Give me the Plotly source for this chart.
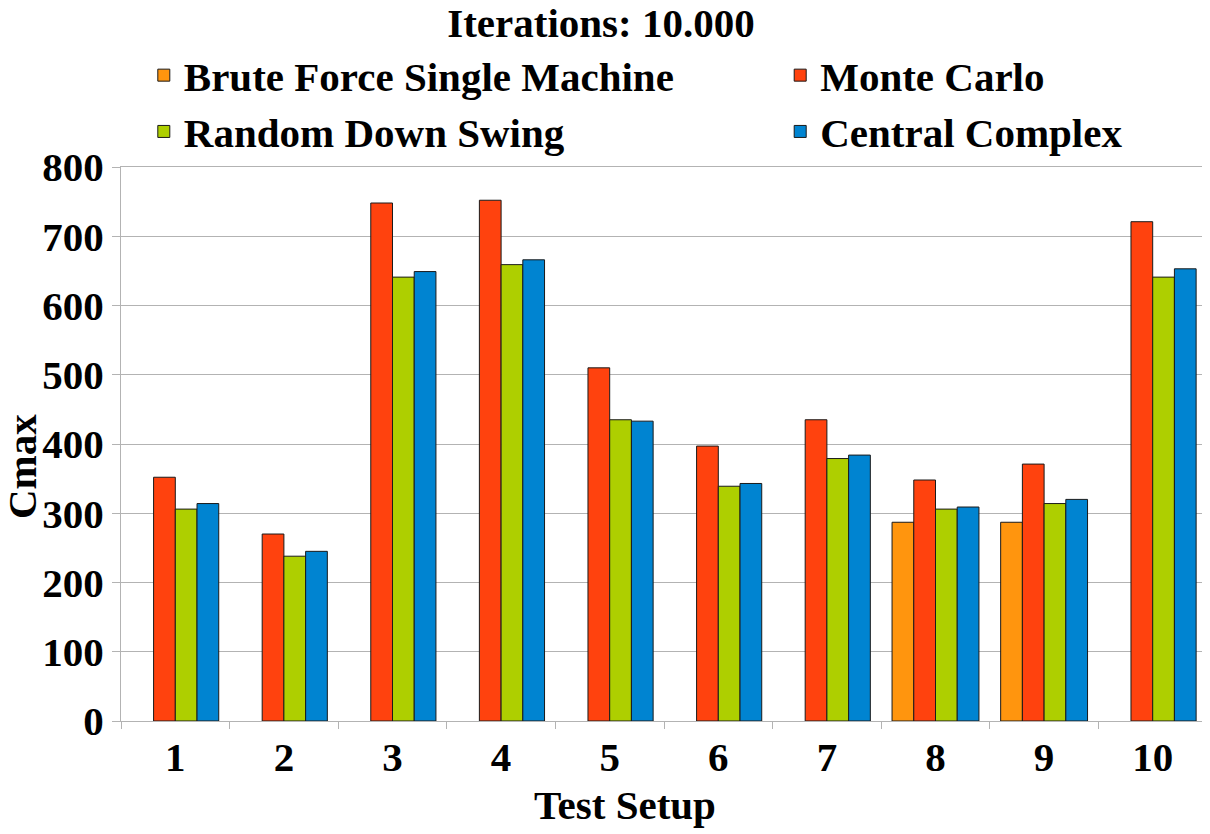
import plotly.graph_objects as go

# test setups on the x axis
setups = ["1", "2", "3", "4", "5", "6", "7", "8", "9", "10"]

# Cmax per setup (None = no result for that method)
brute_force = [None, None, None, None, None, None, None, 287, 287, None]
monte_carlo = [352, 270, 748, 752, 510, 397, 435, 348, 371, 721]
random_down_swing = [306, 238, 641, 659, 435, 339, 379, 306, 314, 641]
central_complex = [314, 245, 649, 666, 433, 343, 384, 309, 320, 653]

y_ticks = [0, 100, 200, 300, 400, 500, 600, 700, 800]

FONT = "Liberation Serif"
GRID = "#b3b3b3"

# page body has an 8px margin, so the figure is 8px smaller than the window
W, H = 1202, 826
L, T, R, B = 113, 159, 3, 113
PW, PH = W - L - R, H - T - B

fig = go.Figure()

series = [
    ("Brute Force Single Machine", brute_force, "#ff950e", "legend"),
    ("Monte Carlo", monte_carlo, "#ff420e", "legend2"),
    ("Random Down Swing", random_down_swing, "#aecf00", "legend"),
    ("Central Complex", central_complex, "#0084d1", "legend2"),
]
for name, vals, color, leg in series:
    fig.add_trace(go.Bar(
        x=setups, y=vals, name=name, legend=leg,
        marker=dict(color=color, line=dict(color="#1a1a1a", width=1)),
    ))

legend_style = dict(
    font=dict(family=FONT, size=41, color="black", weight="bold"),
    orientation="v", xanchor="left", yanchor="top",
    bgcolor="rgba(0,0,0,0)", traceorder="normal",
)
leg_y = 1 + (T - 34) / PH

fig.update_layout(
    width=W, height=H,
    margin=dict(l=L, r=R, t=T, b=B),
    paper_bgcolor="white", plot_bgcolor="white",
    barmode="group", bargap=0.2, bargroupgap=0,
    font=dict(family=FONT, size=41, color="black", weight="bold"),
    title=dict(text="Iterations: 10.000", x=(601 - 8) / W, xref="container", xanchor="center",
               y=1, yref="container", yanchor="top", pad=dict(t=0),
               font=dict(family=FONT, size=41, weight="bold")),
    legend=dict(x=0.021, y=leg_y, **legend_style),
    legend2=dict(x=0.607, y=leg_y, **legend_style),
    annotations=[
        dict(text="Test Setup", xref="paper", yref="paper", x=(625 - 121) / PW, y=-(805 - 721) / PH,
             xanchor="center", yanchor="middle", showarrow=False,
             font=dict(family=FONT, size=41, weight="bold")),
        dict(text="Cmax", xref="paper", yref="paper", x=-(L - 14) / PW, y=(721 - 467) / PH,
             xanchor="center", yanchor="middle", showarrow=False, textangle=-90,
             font=dict(family=FONT, size=41, weight="bold")),
    ],
)

fig.update_xaxes(
    type="category", tickson="boundaries", ticks="outside", ticklen=7,
    tickcolor=GRID, showline=True, linecolor=GRID, mirror=True,
    showgrid=False, tickfont=dict(family=FONT, size=41, weight="bold"),
)
fig.update_yaxes(
    range=[0, 800], tickvals=y_ticks, ticks="outside", ticklen=8,
    tickcolor=GRID, showline=True, linecolor=GRID, mirror=True,
    showgrid=True, gridcolor=GRID, gridwidth=1, zeroline=False,
    tickfont=dict(family=FONT, size=41, weight="bold"),
)

fig.write_html("out.html")
